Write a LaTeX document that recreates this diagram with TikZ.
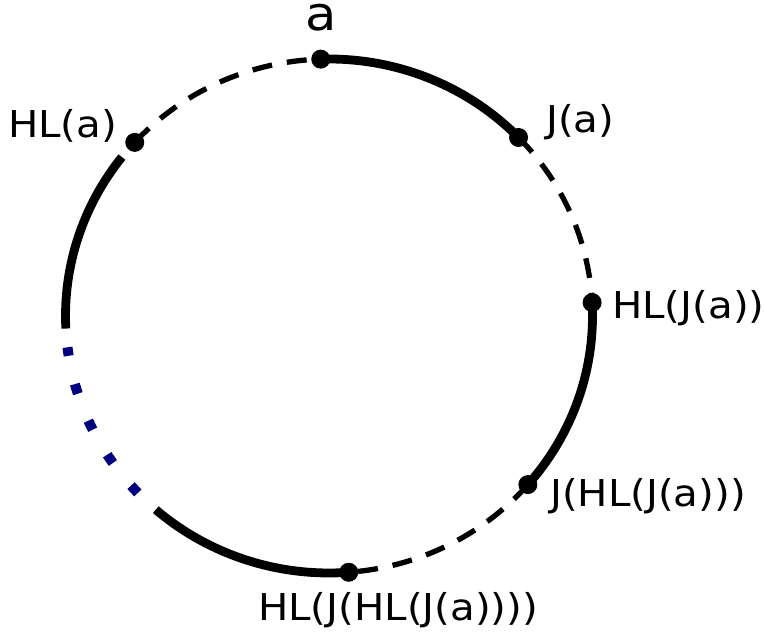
\documentclass[tikz,border=0pt]{standalone}
\usepackage{fontspec}
\newfontfamily\lab[FakeStretch=1.09]{DejaVu Sans}
\usetikzlibrary{calc}
\definecolor{navyc}{RGB}{0,0,128}
\begin{document}
\begin{tikzpicture}[x=1pt,y=1pt,
  dot/.style={circle,fill=black,inner sep=0pt,minimum size=19pt},
  solidarc/.style={line width=8.8pt},
  dasharc/.style={line width=5.3pt,dash pattern=on 20pt off 15pt},
  dotarc/.style={line width=10pt,color=navyc,dash pattern=on 10pt off 29pt},
  lbl/.style={inner sep=0pt,font=\lab\fontsize{37}{42}\selectfont},
  ell/.style={x radius=263.5pt,y radius=257pt}]
\useasboundingbox (0,0) rectangle (764,634);
\coordinate (C) at (329,318);
% points on the loop
\coordinate (pa)  at ($(C)+(91.8:263.5pt and 257pt)$);
\coordinate (pj)  at ($(C)+(44:263.5pt and 257pt)$);
\coordinate (phj) at ($(C)+(3:263.5pt and 257pt)$);
\coordinate (pjh) at ($(C)+(-41:263.5pt and 257pt)$);
\coordinate (pb)  at ($(C)+(-85.7:263.5pt and 257pt)$);
\coordinate (ph)  at ($(C)+(137.5:263.5pt and 257pt)$);
\coordinate (d1)  at ($(C)+(223.5:263.5pt and 257pt)$);
\coordinate (l1)  at ($(C)+(182.8:263.5pt and 257pt)$);
% arcs
\draw[solidarc] (pa) arc[start angle=91.8,end angle=44,ell];
\draw[dasharc]  (pj) arc[start angle=44,end angle=3,ell];
\draw[solidarc] (phj) arc[start angle=3,end angle=-41,ell];
\draw[dasharc]  (pjh) arc[start angle=-41,end angle=-85.7,ell];
\draw[solidarc] (pb) arc[start angle=274.3,end angle=228.9,ell];
\draw[dotarc]   (d1) arc[start angle=223.5,end angle=187,ell];
\draw[solidarc] (l1) arc[start angle=182.8,end angle=141.8,ell];
\draw[dasharc]  (ph) arc[start angle=137.5,end angle=91.8,ell];
% dots
\node[dot] (a) at (pa) {};
\node[dot] (ja) at (pj) {};
\node[dot] (hlja) at (phj) {};
\node[dot] (jhlja) at (pjh) {};
\node[dot] (hljhlja) at (pb) {};
\node[dot] (hla) at (ph) {};
% labels
\node[inner sep=0pt,anchor=base,font=\lab\fontsize{47}{52}\selectfont] (ta) at (321,603) {a};
\node[lbl,anchor=base west] (tja) at (546,501) {J(a)};
\node[lbl,anchor=base west] (thla) at (8,496) {HL(a)};
\node[lbl,anchor=base west] (thlja) at (612,315) {HL(J(a))};
\node[lbl,anchor=base west] (tjhlja) at (550,127) {J(HL(J(a)))};
\node[lbl,anchor=base west] (thljhlja) at (258,13) {HL(J(HL(J(a))))};
\end{tikzpicture}
\end{document}
